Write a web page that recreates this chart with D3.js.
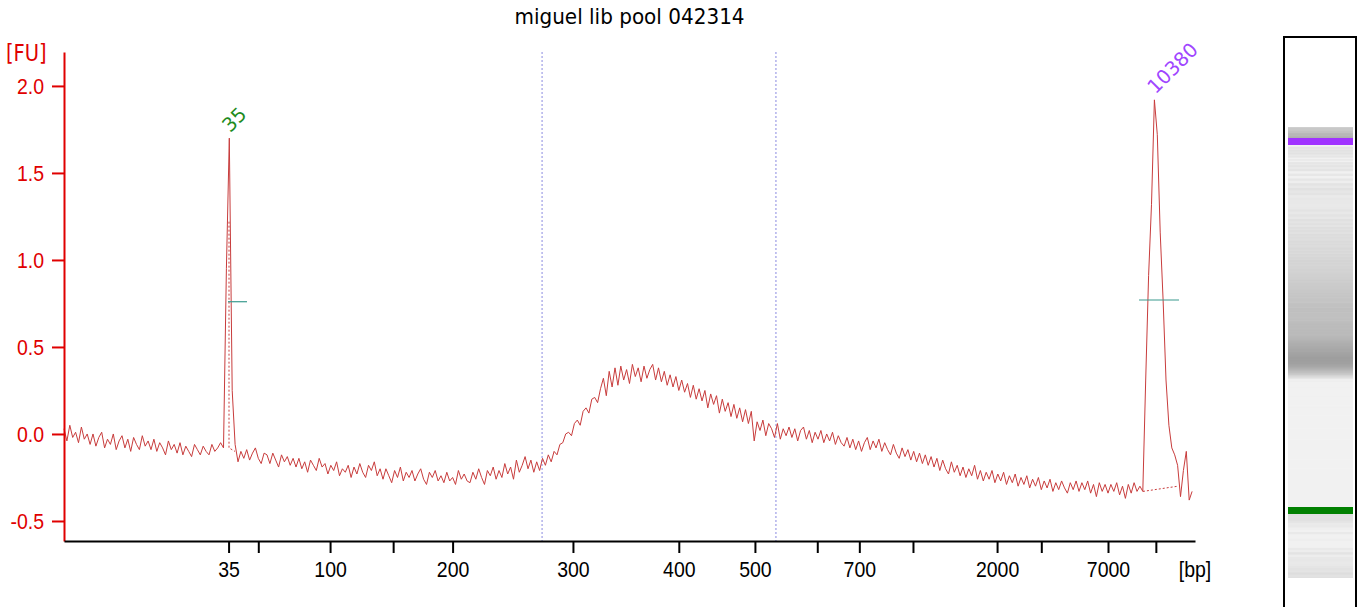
<!DOCTYPE html>
<html>
<head>
<meta charset="utf-8">
<script src="https://cdn.jsdelivr.net/npm/d3@7"></script>
<style>
  body { margin: 0; background: #fff; }
  svg { display: block; font-family: "DejaVu Sans", Verdana, sans-serif; }
</style>
</head>
<body>
<svg id="chart" width="1361" height="607"></svg>
<script>
// electropherogram, miguel lib pool 042314
var title = 'miguel lib pool 042314';

// ladder: size (bp) and migration time (s)
var ladderBp   = [35, 50, 100, 150, 200, 300, 400, 500, 600, 700, 1000, 2000, 3000, 7000, 10380];
var ladderTime = [51.35, 53.4, 58.35, 62.7, 66.8, 75.1, 82.4, 87.65, 91.95, 94.85, 98.55, 104.35, 107.4, 112.0, 115.3];
var labelledBp = [35, 100, 200, 300, 400, 500, 700, 2000, 7000];
var yTicks = [-0.5, 0.0, 0.5, 1.0, 1.5, 2.0];

// markers (lower / upper) and their peak annotations
var markerBp = [35, 10380];
var halfLevel = [0.76, 0.77];
var halfFrom = [51.31, 114.14];
var halfTo = [52.62, 116.9];
var peakBaseLines = [
  [[51.38, 1.22], [51.38, -0.08], [51.79, -0.10]],
  [[114.41, -0.33], [116.83, -0.30]]
];

// region of interest (s)
var regionTimes = [72.97, 89.1];

// fluorescence trace, one sample every 0.2 s from 40 s
var sampleStart = 40, sampleStep = 0.2;
var fu = [
  0.03, -0.04, 0.05, -0.02, 0.01, -0.05, 0.04, -0.03, 0.00, -0.06,
  0.00, -0.07, -0.02, 0.01, -0.08, -0.03, -0.06, 0.00, -0.09, -0.04,
  -0.01, -0.08, -0.03, -0.10, -0.02, -0.06, -0.09, -0.01, -0.07, -0.04,
  -0.09, -0.03, -0.10, -0.05, -0.08, -0.12, -0.04, -0.09, -0.06, -0.11,
  -0.05, -0.12, -0.07, -0.10, -0.13, -0.06, -0.09, -0.12, -0.07, -0.10,
  -0.12, -0.06, -0.10, -0.08, -0.05,
  -0.08, 0.95, 1.70, 0.25, -0.06,
  -0.16, -0.10, -0.14, -0.09, -0.15, -0.11, -0.08, -0.14, -0.17, -0.11,
  -0.12, -0.17, -0.11, -0.15, -0.19, -0.12, -0.16, -0.13, -0.18, -0.14,
  -0.19, -0.14, -0.20, -0.16, -0.22, -0.15, -0.18, -0.21, -0.14, -0.19,
  -0.17, -0.23, -0.18, -0.21, -0.16, -0.24, -0.20, -0.22, -0.18, -0.25,
  -0.19, -0.23, -0.17, -0.22, -0.25, -0.18, -0.21, -0.16, -0.24, -0.20,
  -0.26, -0.20, -0.24, -0.28, -0.21, -0.25, -0.19, -0.27, -0.22, -0.25,
  -0.21, -0.27, -0.23, -0.20, -0.26, -0.29, -0.22, -0.25, -0.21, -0.27,
  -0.24, -0.28, -0.22, -0.27, -0.25, -0.29, -0.21, -0.26, -0.23, -0.27,
  -0.28, -0.22, -0.26, -0.20, -0.25, -0.29, -0.21, -0.24, -0.19, -0.26,
  -0.21, -0.25, -0.17, -0.23, -0.19, -0.26, -0.15, -0.22, -0.18, -0.13,
  -0.20, -0.15, -0.22, -0.16, -0.21, -0.14, -0.18, -0.12, -0.16, -0.10,
  -0.12, -0.06, -0.05, 0.00, 0.01, -0.01, 0.06, 0.08, 0.05, 0.13,
  0.15, 0.12, 0.20, 0.21, 0.18, 0.26, 0.32, 0.22, 0.36, 0.27,
  0.38, 0.28, 0.39, 0.31, 0.37, 0.29, 0.40, 0.33, 0.38, 0.30,
  0.39, 0.32, 0.37, 0.40, 0.31, 0.38, 0.30, 0.36, 0.28, 0.34,
  0.27, 0.33, 0.25, 0.31, 0.24, 0.29, 0.21, 0.28, 0.20, 0.26,
  0.19, 0.25, 0.15, 0.23, 0.17, 0.22, 0.12, 0.20, 0.13, 0.18,
  0.10, 0.17, 0.09, 0.15, 0.07, 0.14, 0.06, 0.13, -0.04, 0.07,
  0.02, 0.08, -0.01, 0.06, 0.03, -0.02, 0.06, -0.03, 0.03, -0.01,
  0.04, -0.02, 0.03, -0.04, 0.02, 0.04, -0.03, 0.02, -0.05, 0.01,
  -0.03, 0.02, -0.05, 0.00, -0.04, 0.01, -0.06, -0.01, -0.05, -0.07,
  -0.02, -0.08, -0.03, -0.09, -0.04, -0.10, -0.05, -0.02, -0.09, -0.04,
  -0.08, -0.03, -0.10, -0.05, -0.09, -0.12, -0.06, -0.11, -0.14, -0.08,
  -0.13, -0.09, -0.15, -0.10, -0.16, -0.11, -0.17, -0.12, -0.18, -0.13,
  -0.19, -0.14, -0.21, -0.15, -0.20, -0.23, -0.16, -0.22, -0.18, -0.24,
  -0.19, -0.25, -0.20, -0.24, -0.18, -0.26, -0.21, -0.27, -0.22, -0.26,
  -0.21, -0.28, -0.23, -0.27, -0.22, -0.29, -0.24, -0.28, -0.23, -0.30,
  -0.25, -0.29, -0.24, -0.31, -0.26, -0.30, -0.25, -0.32, -0.27, -0.31,
  -0.26, -0.33, -0.28, -0.32, -0.27, -0.31, -0.34, -0.28, -0.32, -0.27,
  -0.33, -0.28, -0.32, -0.27, -0.34, -0.29, -0.36, -0.28, -0.33, -0.29,
  -0.34, -0.29, -0.33, -0.28, -0.35, -0.30, -0.37, -0.29, -0.34, -0.28,
  -0.33, -0.30,
  -0.33, 0.31, 0.91, 1.32, 1.92, 1.72, 1.16, 0.77, 0.31, 0.05,
  -0.08, -0.12, -0.18, -0.36, -0.21, -0.10, -0.38, -0.33
];

var red = '#e00000', traceColor = '#c83c3c';
var textStretch = 1.15, tickFont = '19.5px';

var svg = d3.select('#chart');
var x = d3.scaleLinear().domain([40, 118]).range([64, 1195]);
var y = d3.scaleLinear().domain([-0.615, 2.195]).range([541, 52]);
var timeOf = function(i){ return sampleStart + i * sampleStep; };

// title
svg.append('text')
    .attr('transform', 'translate(' + (x.range()[0] + x.range()[1]) / 2 + ',24) scale(1,1.1)')
    .attr('text-anchor', 'middle')
    .style('font-size', '20px')
    .text(title);

// region lines
svg.selectAll('line.region')
    .data(regionTimes)
  .enter().append('line')
    .attr('class', 'region')
    .attr('x1', function(d){ return x(d); })
    .attr('x2', function(d){ return x(d); })
    .attr('y1', y.range()[1])
    .attr('y2', y.range()[0])
    .style('stroke', '#8a8ae0')
    .style('stroke-width', 1)
    .style('stroke-dasharray', '2,2');

// trace
var line = d3.line()
    .x(function(d, i){ return x(timeOf(i)); })
    .y(function(d){ return y(d); });

svg.append('path')
    .datum(fu)
    .attr('d', line)
    .style('fill', 'none')
    .style('stroke', traceColor)
    .style('stroke-width', 1);

// dotted peak base lines
svg.selectAll('path.pbase')
    .data(peakBaseLines)
  .enter().append('path')
    .attr('class', 'pbase')
    .attr('d', d3.line().x(function(d){ return x(d[0]); }).y(function(d){ return y(d[1]); }))
    .style('fill', 'none')
    .style('stroke', traceColor)
    .style('stroke-width', 1)
    .style('stroke-dasharray', '2,2');

// half height markers
svg.selectAll('line.half')
    .data(halfLevel)
  .enter().append('line')
    .attr('class', 'half')
    .attr('x1', function(d, i){ return x(halfFrom[i]); })
    .attr('x2', function(d, i){ return x(halfTo[i]); })
    .attr('y1', function(d){ return y(d); })
    .attr('y2', function(d){ return y(d); })
    .style('stroke', '#3a9a8e')
    .style('stroke-width', 1.2);

// peak labels at the highest sample near each marker
var markerColors = ['#1e8c1e', '#a046ff'];
markerBp.forEach(function(bp, k){
    var t0 = ladderTime[ladderBp.indexOf(bp)];
    var best = -1;
    fu.forEach(function(v, i){
        if (Math.abs(timeOf(i) - t0) < 1 && (best < 0 || v > fu[best])) best = i;
    });
    svg.append('text')
        .attr('transform', 'translate(' + (x(timeOf(best)) + 1) + ',' + (y(fu[best]) - 5) + ') rotate(-45)')
        .style('font-size', '19.5px')
        .style('fill', markerColors[k])
        .text(bp);
});

// y axis
var yAxis = svg.append('g')
    .attr('transform', 'translate(' + x.range()[0] + ',0)')
    .attr('color', red)
    .call(d3.axisLeft(y).tickValues(yTicks).tickSize(12).tickSizeOuter(0).tickPadding(8)
        .tickFormat(function(d){ return d.toFixed(1); }));
yAxis.selectAll('path, line').style('stroke-width', 2);
yAxis.selectAll('text')
    .style('font-size', tickFont).style('font-family', null)
    .attr('transform', 'scale(1,' + textStretch + ')');

svg.append('text')
    .attr('transform', 'translate(6,61) scale(1,' + textStretch + ')')
    .style('font-size', tickFont)
    .style('fill', red)
    .text('[FU]');

// x axis
var xAxis = svg.append('g')
    .attr('transform', 'translate(0,' + y.range()[0] + ')')
    .call(d3.axisBottom(x).tickValues(ladderTime).tickSize(12).tickSizeOuter(0).tickPadding(8)
        .tickFormat(function(t){
            var bp = ladderBp[ladderTime.indexOf(t)];
            return labelledBp.indexOf(bp) >= 0 ? bp : '';
        }));
xAxis.selectAll('path, line').style('stroke-width', 2);
xAxis.selectAll('.tick text')
    .style('font-size', tickFont).style('font-family', null)
    .attr('y', 0)
    .attr('transform', 'translate(0,20) scale(1,' + textStretch + ')');

xAxis.append('text')
    .attr('transform', 'translate(' + x.range()[1] + ',20) scale(1,' + textStretch + ')')
    .attr('dy', '0.71em')
    .attr('text-anchor', 'middle')
    .style('fill', '#000')
    .style('font-size', tickFont)
    .text('[bp]');

// gel lane
var gelLog = d3.scaleLog().domain([35, 10380]).range([510.5, 141.5]);
var gelY = d3.scaleLinear().domain(ladderTime).range(ladderBp.map(function(b){ return gelLog(b); }));
var gelBase = d3.scaleLinear().domain([ladderTime[0], 114.4]).range([-0.10, -0.33]);
var lane = {x0: 1288, x1: 1353, top: 127, bottom: 578};

// samples belonging to the marker peaks are shown as coloured bands, not gray
var markerTimes = markerBp.map(function(b){ return ladderTime[ladderBp.indexOf(b)]; });
var inMarker = fu.map(function(v, i){
    return markerTimes.some(function(t){ return Math.abs(timeOf(i) - t) < 0.9; })
        && v - gelBase(timeOf(i)) > 0.2;
});

// light smoothing of the trace for the lane intensity
var gelVal = fu.map(function(v, i){
    var w = [];
    for (var j = Math.max(0, i - 2); j <= Math.min(fu.length - 1, i + 2); j++) {
        if (!inMarker[j]) w.push(fu[j] - gelBase(timeOf(j)));
    }
    return w.length ? d3.mean(w) : 0;
});

svg.append('rect')
    .attr('x', 1284).attr('y', 37)
    .attr('width', 72).attr('height', 600)
    .style('fill', '#fff')
    .style('stroke', '#000')
    .style('stroke-width', 2);

svg.append('clipPath').attr('id', 'laneClip')
  .append('rect')
    .attr('x', lane.x0).attr('y', lane.top)
    .attr('width', lane.x1 - lane.x0).attr('height', lane.bottom - lane.top);

var gel = svg.append('g').attr('clip-path', 'url(#laneClip)');
gel.selectAll('rect')
    .data(gelVal)
  .enter().append('rect')
    .attr('x', lane.x0)
    .attr('width', lane.x1 - lane.x0)
    .attr('y', function(d, i){ return gelY(timeOf(i) + sampleStep / 2); })
    .attr('height', function(d, i){
        return Math.abs(gelY(timeOf(i) - sampleStep / 2) - gelY(timeOf(i) + sampleStep / 2)) + 0.6;
    })
    .style('fill', function(d){
        var g = Math.round(Math.max(90, 241 - 110 * Math.sqrt(Math.max(0, d))));
        return d3.rgb(g, g, g);
    });

// marker bands in the gel
var bandColors = ['#008000', '#a033ff'];
gel.selectAll('rect.band')
    .data(markerBp)
  .enter().append('rect')
    .attr('class', 'band')
    .attr('x', lane.x0)
    .attr('width', lane.x1 - lane.x0)
    .attr('y', function(b){ return gelLog(b) - 3.5; })
    .attr('height', 7)
    .style('fill', function(b, i){ return bandColors[i]; });
</script>
</body>
</html>
